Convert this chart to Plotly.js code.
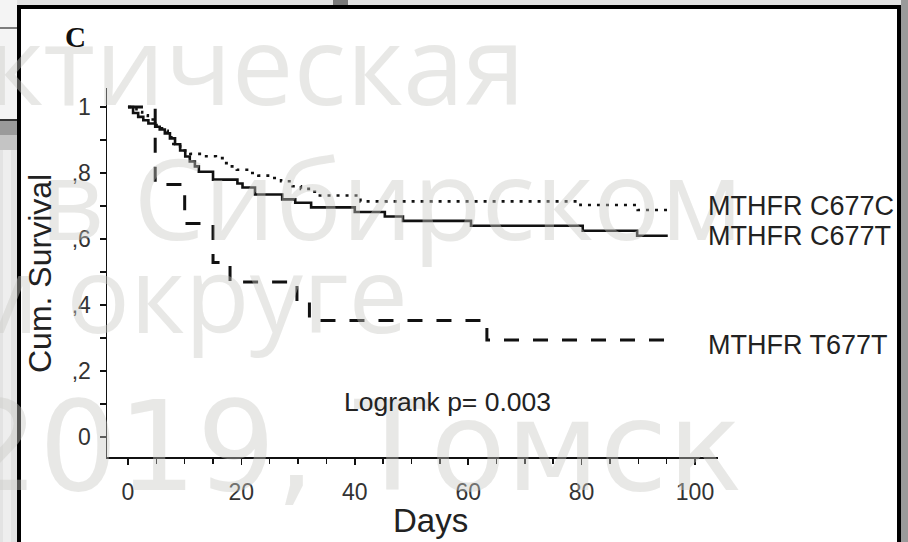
<!DOCTYPE html>
<html>
<head>
<meta charset="utf-8">
<script src="https://cdn.plot.ly/plotly-3.0.1.min.js"></script>
<style>html,body{margin:0;padding:0;background:#fff}#chart{width:908px;height:542px}</style>
</head>
<body>
<div id="chart"></div>
<script>
// ---- data ----
const seriesNames = ['MTHFR C677C', 'MTHFR C677T', 'MTHFR T677T'];

const daysC677C = [0, 1.5, 2.5, 3.5, 5, 6, 7, 8, 9.2, 11, 13.3, 15.5, 17, 18, 19.2, 21, 23, 25, 27, 29, 30.5, 32.5, 33.5, 41, 79.8, 89.9, 95.2];
const survC677C = [1, 0.985, 0.975, 0.962, 0.945, 0.928, 0.908, 0.888, 0.868, 0.858, 0.851, 0.845, 0.83, 0.82, 0.81, 0.8, 0.792, 0.785, 0.775, 0.76, 0.752, 0.743, 0.732, 0.714, 0.703, 0.688, 0.688];

const daysC677T = [0, 0.9, 1.8, 2.7, 3.6, 4.8, 5.6, 6.5, 7.4, 8.3, 9.2, 10.1, 10.9, 11.8, 12.5, 15.0, 19.3, 20.2, 22.4, 27.2, 29.5, 32.3, 40.0, 45.3, 48.5, 60.5, 80.2, 89.8, 95.2];
const survC677T = [1, 0.982, 0.97, 0.96, 0.95, 0.94, 0.932, 0.92, 0.905, 0.887, 0.868, 0.85, 0.835, 0.82, 0.804, 0.78, 0.768, 0.756, 0.735, 0.72, 0.71, 0.696, 0.682, 0.668, 0.655, 0.64, 0.625, 0.61, 0.61];

const daysT677T = [0, 4.8, 10, 15, 18, 29.8, 32, 63.3, 95.2];
const survT677T = [1, 0.765, 0.647, 0.529, 0.47, 0.412, 0.353, 0.294, 0.294];

const labelY = [0.70, 0.61, 0.279];
const xTickVals = [0, 20, 40, 60, 80, 100];
const yTickVals = [0, 0.2, 0.4, 0.6, 0.8, 1];
const yTickText = ['0', ',2', ',4', ',6', ',8', '1'];
const pText = 'Logrank p= 0.003';
const watermarkLines = ['Практическая', 'в Сибирском', 'м округе', '2019, Томск'];

// ---- layout helpers (pixel -> paper for decorations) ----
const W = 908, H = 542, L = 107, R = 718, T = 88, B = 457;
const px = x => (x - L) / (R - L);
const py = y => (B - y) / (B - T);

const lineStyles = [
  {color: '#111', width: 2.6, dash: '3px,6px'},
  {color: '#111', width: 2.6, dash: 'solid'},
  {color: '#111', width: 3, dash: '15px,14px'}
];
const xs = [daysC677C, daysC677T, daysT677T];
const ys = [survC677C, survC677T, survT677T];

const traces = seriesNames.map((n, i) => ({
  type: 'scatter', mode: 'lines', name: n,
  x: xs[i], y: ys[i],
  line: Object.assign({shape: 'hv'}, lineStyles[i]),
  hoverinfo: 'skip', showlegend: false
}));

const font = 'Liberation Sans, Arial, sans-serif';

const annotations = [];
// watermark first (drawn under the other texts)
const wmRight = [527, 745, 410, 745];
const wmCenter = [62, 196, 292, 447];
const wmSize = [110, 112, 106, 124];
const wmFamily = ['Open Sans, sans-serif', 'Open Sans, sans-serif', 'Open Sans, sans-serif', 'DejaVu Sans, sans-serif'];
watermarkLines.forEach((t, i) => annotations.push({
  xref: 'paper', yref: 'paper', x: px(wmRight[i]), y: py(wmCenter[i]), xanchor: 'right', yanchor: 'middle',
  text: t, showarrow: false,
  font: {family: wmFamily[i], size: wmSize[i], color: 'rgba(200,200,195,0.42)'}
}));

seriesNames.forEach((n, i) => annotations.push({
  xref: 'x', yref: 'y', x: 101.9, y: labelY[i], xanchor: 'left', yanchor: 'middle',
  text: n, showarrow: false, font: {family: font, size: 27, color: '#222'}
}));
annotations.push({xref: 'x', yref: 'y', x: 56.3, y: 0.106, xanchor: 'center', yanchor: 'middle',
  text: pText, showarrow: false, font: {family: font, size: 26.5, color: '#222'}});
annotations.push({xref: 'paper', yref: 'paper', x: px(40), y: py(274), xanchor: 'center', yanchor: 'middle',
  text: 'Cum. Survival', textangle: -90, showarrow: false, font: {family: font, size: 32, color: '#222'}});
annotations.push({xref: 'paper', yref: 'paper', x: px(430), y: py(520), xanchor: 'center', yanchor: 'middle',
  text: 'Days', showarrow: false, font: {family: font, size: 33, color: '#222'}});
annotations.push({xref: 'paper', yref: 'paper', x: px(75), y: py(37), xanchor: 'center', yanchor: 'middle',
  text: '<b>C</b>', showarrow: false, font: {family: 'Liberation Serif, Times New Roman, serif', size: 29, color: '#111'}});

const shapes = [
  // left outside decorations
  {type: 'rect', xref: 'paper', yref: 'paper', x0: px(0), x1: px(17), y0: py(0), y1: py(120), fillcolor: '#f4f4f4', line: {width: 0}, layer: 'below'},
  {type: 'line', xref: 'paper', yref: 'paper', x0: px(0), x1: px(17), y0: py(28), y1: py(28), line: {color: '#555', width: 1.5}, layer: 'below'},
  {type: 'line', xref: 'paper', yref: 'paper', x0: px(0), x1: px(17), y0: py(120), y1: py(120), line: {color: '#333', width: 2}, layer: 'below'},
  {type: 'rect', xref: 'paper', yref: 'paper', x0: px(0), x1: px(17), y0: py(121), y1: py(135), fillcolor: '#9a9a9a', line: {width: 0}, layer: 'below'},
  {type: 'rect', xref: 'paper', yref: 'paper', x0: px(0), x1: px(17), y0: py(135), y1: py(150), fillcolor: '#c4c4c4', line: {width: 0}, layer: 'below'},
  {type: 'rect', xref: 'paper', yref: 'paper', x0: px(3), x1: px(11), y0: py(150), y1: py(542), fillcolor: '#eeeeee', line: {width: 0}, layer: 'below'},
  // top dark block
  {type: 'rect', xref: 'paper', yref: 'paper', x0: px(333), x1: px(348), y0: py(0), y1: py(6), fillcolor: '#7a7a7a', line: {width: 0}, layer: 'below'},
  // right strip
  {type: 'rect', xref: 'paper', yref: 'paper', x0: px(901), x1: px(908), y0: py(0), y1: py(542), fillcolor: '#9a9a9a', line: {width: 0}, layer: 'below'},
  // frame
  {type: 'rect', xref: 'paper', yref: 'paper', x0: px(19), x1: px(899), y0: py(570), y1: py(7), fillcolor: '#ffffff', line: {color: '#000', width: 4}, layer: 'below'}
];

const axisCommon = {
  showline: true, linecolor: '#111', linewidth: 1.5, mirror: false,
  showgrid: false, zeroline: false, ticks: 'outside', ticklen: 6, tickwidth: 1.5, tickcolor: '#111',
  tickfont: {family: font, size: 23, color: '#333'}, fixedrange: true
};

const layout = {
  width: W, height: H, autosize: false,
  margin: {l: L, r: W - R, t: T, b: H - B, pad: 0},
  paper_bgcolor: '#e3e3e3', plot_bgcolor: 'rgba(0,0,0,0)',
  showlegend: false,
  xaxis: Object.assign({}, axisCommon, {
    range: [-3.7, 104.06], tickvals: xTickVals, ticklabelstandoff: 8,
    minor: {dtick: 5, tick0: 0, ticks: 'outside', ticklen: 5, tickwidth: 1.5, tickcolor: '#111', showgrid: false}
  }),
  yaxis: Object.assign({}, axisCommon, {
    range: [-0.0606, 1.0576], tickvals: yTickVals, ticktext: yTickText, ticklabelstandoff: 4,
    minor: {dtick: 0.1, tick0: 0, ticks: 'outside', ticklen: 6, tickwidth: 1.5, tickcolor: '#111', showgrid: false}
  }),
  annotations: annotations,
  shapes: shapes
};

Plotly.newPlot('chart', traces, layout, {staticPlot: true, displayModeBar: false});
</script>
</body>
</html>
